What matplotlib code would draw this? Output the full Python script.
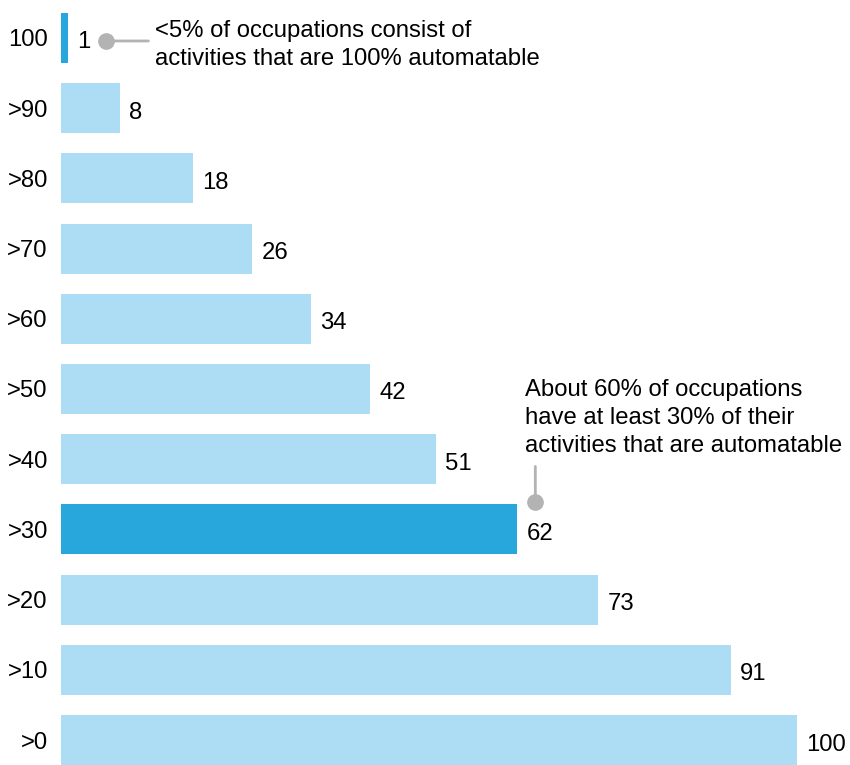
import matplotlib.pyplot as plt
from matplotlib.transforms import offset_copy

plt.rcParams['font.family'] = ['Liberation Sans', 'DejaVu Sans']

# share of occupations (%) by share of automatable activities
labels = ["100", ">90", ">80", ">70", ">60", ">50", ">40", ">30", ">20", ">10", ">0"]
values = [1, 8, 18, 26, 34, 42, 51, 62, 73, 91, 100]
highlight = ["100", ">30"]

LIGHT = "#ADDDF4"
DARK = "#27A7DC"
GREY = "#B3B3B3"
FS = 17.2

fig = plt.figure(figsize=(8.5, 7.65), dpi=100)
ax = fig.add_axes([61 / 850, 0, 789 / 850, 1])

rows = list(range(len(labels)))
colors = [DARK if lab in highlight else LIGHT for lab in labels]
ax.barh(rows, values, height=0.712, color=colors, linewidth=0)

ax.set_xlim(0, 107.2)
ax.set_ylim(10.356, -0.541)
ax.set_yticks(rows)
ax.set_yticklabels(labels, fontsize=FS)
ax.tick_params(axis="y", length=0, pad=9.5)
ax.set_xticks([])
for s in ax.spines.values():
    s.set_visible(False)

# value labels just past the end of each bar
for r, v in zip(rows, values):
    ax.annotate(str(v), (v, r), xytext=(9, -2), textcoords="offset pixels",
                ha="left", va="center_baseline", fontsize=FS)


def callout(row, dx, dy, lx, ly):
    # grey dot near the bar end with a short leader line
    tr = offset_copy(ax.transData, fig=fig, x=dx, y=dy, units="dots")
    v = values[row]
    ax.annotate("", (v, row), xycoords=tr, xytext=(lx, ly), textcoords="offset pixels",
                arrowprops=dict(arrowstyle="-", color=GREY, lw=2, shrinkA=0, shrinkB=0),
                annotation_clip=False)
    ax.plot([v], [row], "o", ms=11, color=GREY, transform=tr, clip_on=False)


i = labels.index("100")
callout(i, 38, -3, 42, 0)
ax.annotate("<5% of occupations consist of\nactivities that are 100% automatable",
            (values[i], i), xytext=(87, -7), textcoords="offset pixels",
            ha="left", va="center", fontsize=FS, linespacing=1.36)

j = labels.index(">30")
callout(j, 18, 27, 0, 36)
ax.annotate("About 60% of occupations\nhave at least 30% of their\nactivities that are automatable",
            (values[j], j), xytext=(8, 72), textcoords="offset pixels",
            ha="left", va="bottom", fontsize=FS, linespacing=1.36)

fig.savefig("out.png", dpi=100)
